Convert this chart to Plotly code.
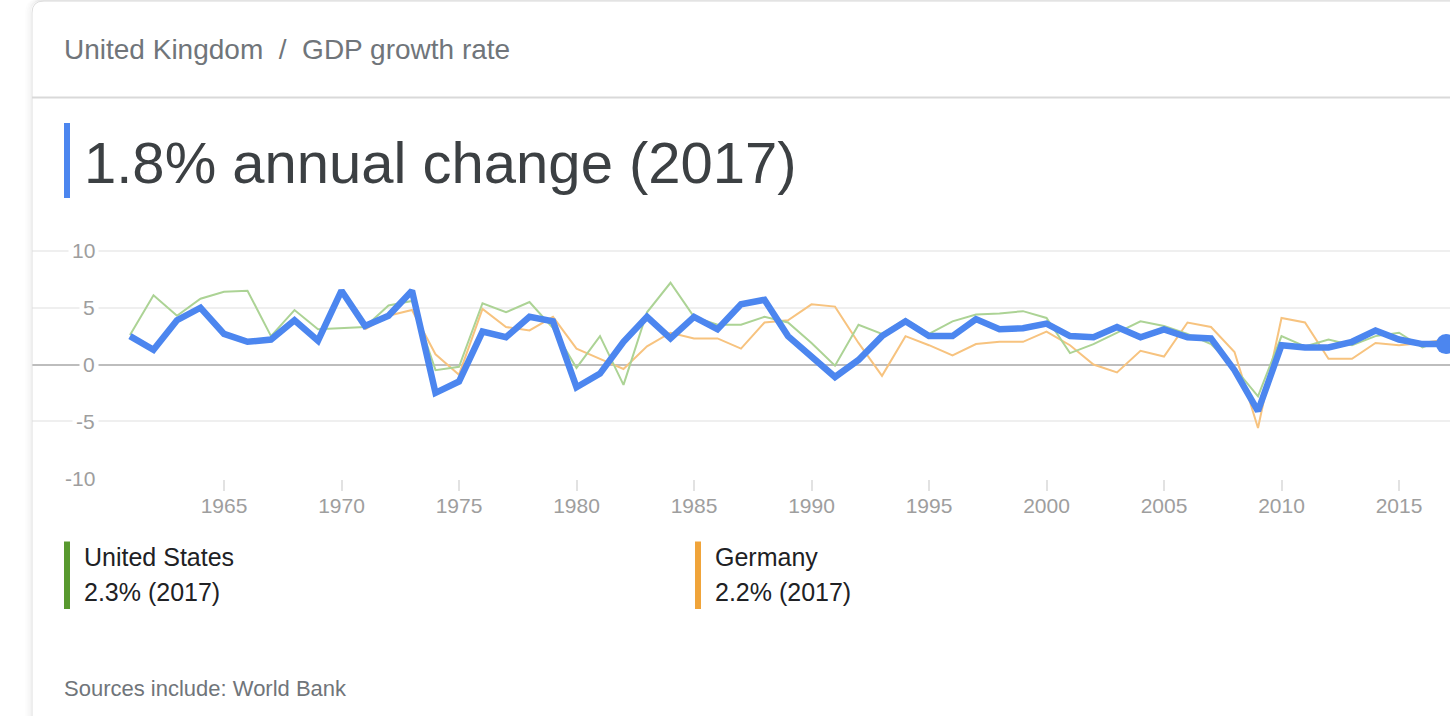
import plotly.graph_objects as go

W, H = 1450, 716

years = list(range(1961, 2018))

uk_growth = [2.5, 1.3, 3.9, 5.0, 2.7, 2.0, 2.2, 3.9, 2.1, 6.5,
             3.4, 4.3, 6.5, -2.5, -1.5, 2.9, 2.4, 4.2, 3.8, -2.0,
             -0.8, 2.0, 4.2, 2.3, 4.2, 3.1, 5.3, 5.7, 2.5, 0.7,
             -1.1, 0.4, 2.5, 3.8, 2.5, 2.5, 4.0, 3.1, 3.2, 3.6,
             2.5, 2.4, 3.3, 2.4, 3.1, 2.4, 2.3, -0.5, -4.1, 1.7,
             1.5, 1.5, 2.0, 3.0, 2.2, 1.8, 1.8]

us_growth = [2.6, 6.1, 4.3, 5.8, 6.4, 6.5, 2.5, 4.8, 3.1, 3.2,
             3.3, 5.2, 5.6, -0.5, -0.2, 5.4, 4.6, 5.5, 3.2, -0.3,
             2.5, -1.8, 4.6, 7.2, 4.2, 3.5, 3.5, 4.2, 3.7, 1.9,
             -0.1, 3.5, 2.7, 4.0, 2.7, 3.8, 4.4, 4.5, 4.7, 4.1,
             1.0, 1.8, 2.8, 3.8, 3.4, 2.7, 1.8, -0.3, -2.8, 2.5,
             1.6, 2.2, 1.7, 2.5, 2.8, 1.5, 2.3]

de_years = list(range(1971, 2018))
de_growth = [3.1, 4.3, 4.8, 0.9, -0.9, 4.9, 3.3, 3.0, 4.2, 1.4,
             0.5, -0.4, 1.6, 2.8, 2.3, 2.3, 1.4, 3.7, 3.9, 5.3,
             5.1, 1.9, -1.0, 2.5, 1.7, 0.8, 1.8, 2.0, 2.0, 2.9,
             1.7, 0.0, -0.7, 1.2, 0.7, 3.7, 3.3, 1.1, -5.6, 4.1,
             3.7, 0.5, 0.5, 1.9, 1.7, 1.9, 2.2]

x_ticks = [1965, 1970, 1975, 1980, 1985, 1990, 1995, 2000, 2005, 2010, 2015]
y_ticks = [10, 5, 0, -5, -10]

header_text = "United Kingdom  /  GDP growth rate"
title_text = "1.8% annual change (2017)"
us_name, us_value = "United States", "2.3% (2017)"
de_name, de_value = "Germany", "2.2% (2017)"
source_text = "Sources include: World Bank"

BLUE = "#4c86ef"
GREEN_LINE = "#acd395"
ORANGE_LINE = "#f7c37f"
GREEN_BAR = "#58992f"
ORANGE_BAR = "#f0a43a"
FONT = "Liberation Sans, Arial, sans-serif"


def px(x):
    return x / W


def py(y):
    return 1 - y / H


fig = go.Figure()
fig.add_trace(go.Scatter(x=de_years, y=de_growth, mode="lines",
                         line=dict(color=ORANGE_LINE, width=2), hoverinfo="skip"))
fig.add_trace(go.Scatter(x=years, y=us_growth, mode="lines",
                         line=dict(color=GREEN_LINE, width=2), hoverinfo="skip"))
fig.add_trace(go.Scatter(x=years, y=uk_growth, mode="lines",
                         line=dict(color=BLUE, width=6.5), hoverinfo="skip"))
fig.add_trace(go.Scatter(x=[years[-1]], y=[uk_growth[-1]], mode="markers",
                         marker=dict(color=BLUE, size=20), hoverinfo="skip",
                         cliponaxis=False))

# pixel geometry of the plot
yr_px = 23.5
x0_px = 130  # position of 1961
zero_px, unit_px = 364.5, 11.35
top_px, bot_px = 240, 479

shapes = []
# card shadow + border
for off, a in [(6, 0.012), (4.5, 0.02), (3, 0.03), (1.5, 0.045)]:
    L = 32 - off
    T = 1 - off * 0.2
    shapes.append(dict(type="path", xref="paper", yref="paper",
                       path=f"M {px(L)},{py(740)} L {px(L)},{py(T+12)} Q {px(L)},{py(T)} {px(L+12)},{py(T)} L {px(1470)},{py(T)}",
                       line=dict(color=f"rgba(0,0,0,{a})", width=1.5)))
shapes.append(dict(type="path", xref="paper", yref="paper",
                   path=f"M {px(32)},{py(740)} L {px(32)},{py(13)} Q {px(32)},{py(1)} {px(44)},{py(1)} L {px(1470)},{py(1)}",
                   line=dict(color="#dedede", width=1)))
# divider
shapes.append(dict(type="line", xref="paper", yref="paper",
                   x0=px(32), x1=px(1450), y0=py(97.5), y1=py(97.5),
                   line=dict(color="#d9d9d9", width=2)))
# colour bars
shapes.append(dict(type="rect", xref="paper", yref="paper",
                   x0=px(64), x1=px(70), y0=py(198), y1=py(123),
                   fillcolor=BLUE, line=dict(width=0)))
shapes.append(dict(type="rect", xref="paper", yref="paper",
                   x0=px(64), x1=px(70), y0=py(609), y1=py(541.5),
                   fillcolor=GREEN_BAR, line=dict(width=0)))
shapes.append(dict(type="rect", xref="paper", yref="paper",
                   x0=px(695), x1=px(701), y0=py(609), y1=py(541.5),
                   fillcolor=ORANGE_BAR, line=dict(width=0)))

annotations = []


def text(x, y, s, size, color):
    annotations.append(dict(xref="paper", yref="paper", x=px(x), y=py(y), text=s,
                            showarrow=False, xanchor="left", yanchor="middle",
                            font=dict(family=FONT, size=size, color=color)))


text(62, 49.5, header_text, 28, "#70757a")
text(82, 162, title_text, 58, "#3c4043")
text(82, 557, us_name, 25, "#202124")
text(82, 592, us_value, 25, "#202124")
text(713, 557, de_name, 25, "#202124")
text(713, 592, de_value, 25, "#202124")
text(62, 688, source_text, 22, "#70757a")

for v in y_ticks:
    annotations.append(dict(xref="paper", yref="y", x=px(99), y=v, text=str(v),
                            showarrow=False, xanchor="right", yanchor="middle",
                            bgcolor="white", borderpad=3,
                            font=dict(family=FONT, size=21, color="#9e9e9e")))

fig.update_layout(
    width=W, height=H, autosize=False,
    margin=dict(l=0, r=0, t=0, b=0),
    paper_bgcolor="white", plot_bgcolor="white",
    showlegend=False,
    shapes=shapes, annotations=annotations,
    xaxis=dict(domain=[px(32), 1],
               range=[1961 - (x0_px - 32) / yr_px, 1961 + (W - x0_px) / yr_px],
               tickvals=x_ticks, ticks="outside", ticklen=11, tickwidth=1.5,
               tickcolor="#e2e2e2", showgrid=False, zeroline=False, showline=False,
               tickfont=dict(family=FONT, size=21, color="#9e9e9e"),
               ticklabelstandoff=-3,
               fixedrange=True),
    yaxis=dict(domain=[py(bot_px), py(top_px)],
               range=[(zero_px - bot_px) / unit_px, (zero_px - top_px) / unit_px],
               tickvals=y_ticks, showticklabels=False, ticks="",
               showgrid=True, gridcolor="#efefef", gridwidth=1.5,
               zeroline=True, zerolinecolor="#bdbdbd", zerolinewidth=2,
               showline=False, fixedrange=True),
    hovermode=False,
)

fig.write_html("out.html", config={"displayModeBar": False})
